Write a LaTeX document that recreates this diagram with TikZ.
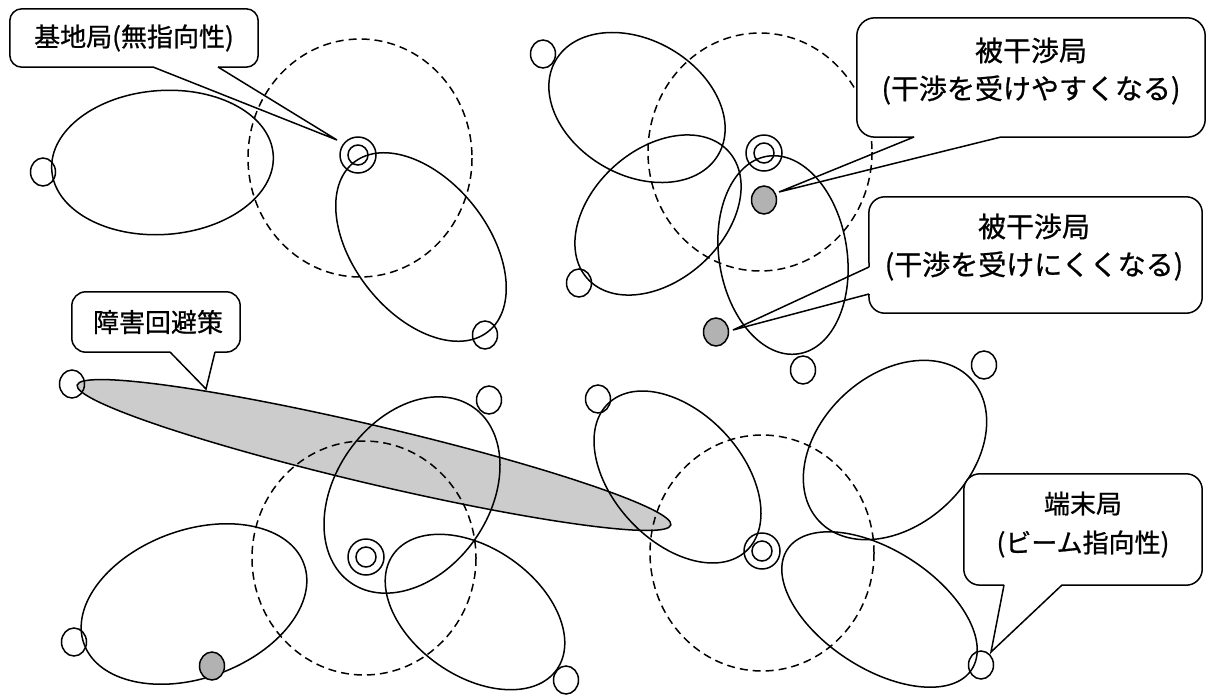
\documentclass[tikz,border=0pt]{standalone}
\usepackage{fontspec}
\newfontfamily\jp[FakeBold=0.8]{Noto Sans CJK JP}
\usetikzlibrary{shapes.geometric}
\begin{document}
\begin{tikzpicture}[x=1pt,y=-1pt,
  ln/.style={line width=1.5pt},
  beam/.style={ln},
  dashcirc/.style={ln, dash pattern=on 8pt off 5pt},
  term/.style={ln, draw, ellipse, minimum width=25pt, minimum height=28pt, inner sep=0pt},
  victim/.style={term, fill=black!30},
  bsout/.style={ln, draw, circle, minimum size=36pt, inner sep=0pt},
  bsin/.style={ln, draw, circle, minimum size=20pt, inner sep=0pt},
  cbox/.style={fill=white, inner sep=0pt},
  ctext/.style={align=center, inner sep=0pt},
  ctA/.style={ctext, font=\jp\fontsize{26}{39}\selectfont},
  ctB/.style={ctext, font=\jp\fontsize{28}{38}\selectfont},
]
\fill[white] (0,0) rectangle (1207,694);
\useasboundingbox (0,0) rectangle (1207,694);

% obstacle-avoidance beam (fill first so lines show through)
\fill[black!20, rotate around={-13.26:(374,455)}] (374,455) ellipse [x radius=305, y radius=29];

% omnidirectional coverage of base stations
\draw[dashcirc] (360,158) ellipse [x radius=112, y radius=119];
\draw[dashcirc] (760,152) ellipse [x radius=112, y radius=119];
\draw[dashcirc] (364,558) ellipse [x radius=112, y radius=117];
\draw[dashcirc] (762,553) ellipse [x radius=112, y radius=118];

% terminal beams
\draw[beam, rotate around={4:(162.5,162.5)}] (162.5,162.5) ellipse [x radius=111, y radius=72];
\draw[beam, rotate around={-51.5:(421,247)}] (421,247) ellipse [x radius=108, y radius=67];
\draw[beam, rotate around={-30:(637,107.5)}] (637,107.5) ellipse [x radius=94, y radius=67.5];
\draw[beam, rotate around={42:(658,215)}] (658,215) ellipse [x radius=95, y radius=65.5];
\draw[beam, rotate around={-81:(783,255)}] (783,255) ellipse [x radius=100, y radius=64];
\draw[beam, rotate around={55:(412,495)}] (412,495) ellipse [x radius=107, y radius=77];
\draw[beam, rotate around={-35:(475,612)}] (475,612) ellipse [x radius=100, y radius=64];
\draw[beam, rotate around={20:(194,604)}] (194,604) ellipse [x radius=117, y radius=74];
\draw[beam, rotate around={-47:(677.5,477)}] (677.5,477) ellipse [x radius=101, y radius=64.5];
\draw[beam, rotate around={43:(895,450)}] (895,450) ellipse [x radius=104, y radius=75];
\draw[beam, rotate around={-33:(879.5,609.5)}] (879.5,609.5) ellipse [x radius=110, y radius=59];

% outline of obstacle-avoidance beam
\draw[ln, rotate around={-13.26:(374,455)}] (374,455) ellipse [x radius=305, y radius=29];

% terminal stations
\node[term] (t1) at (43,172) {};
\node[term] (t2) at (485,335) {};
\node[term] (t3) at (543,54) {};
\node[term] (t4) at (579,283) {};
\node[term] (t5) at (803,370) {};
\node[term] (t6) at (72,384) {};
\node[term] (t7) at (489,400) {};
\node[term] (t8) at (74,642) {};
\node[term] (t9) at (566,680) {};
\node[term] (t10) at (598,399) {};
\node[term] (t11) at (984,365) {};
\node[term] (t12) at (981,665) {};

% interfered stations
\node[victim] (v1) at (764,200) {};
\node[victim] (v2) at (716,332) {};
\node[victim] (v3) at (212,666) {};

% base stations
\node[bsout] (b1) at (358,155) {}; \node[bsin] (b1i) at (b1) {};
\node[bsout] (b2) at (764,153) {}; \node[bsin] (b2i) at (b2) {};
\node[bsout] (b3) at (366,557) {}; \node[bsin] (b3i) at (b3) {};
\node[bsout] (b4) at (762,551) {}; \node[bsin] (b4i) at (b4) {};

% callout 1
\node[cbox, rounded corners=12pt, minimum width=248pt, minimum height=58pt] (c1) at (134,38) {};
\node[ctA] (c1t) at (134,38) {基地局(無指向性)};
\coordinate (c1a) at (153,67); \coordinate (c1b) at (218,67); \coordinate (p1) at (337,140);
\draw[ln, rounded corners=12pt] (c1a) -- (c1.south west) -- (c1.north west) -- (c1.north east) -- (c1.south east) -- (c1b);
\draw[ln] (c1a) -- (p1) -- (c1b);

% callout 2
\node[cbox, rounded corners=18pt, minimum width=348pt, minimum height=119pt] (c2) at (1031,77.5) {};
\node[ctB] (c2t) at (1031,71) {被干渉局\\(干渉を受けやすくなる)};
\coordinate (c2a) at (914,137); \coordinate (c2b) at (1001,137); \coordinate (p2) at (779,192);
\draw[ln, rounded corners=18pt] (c2a) -- (c2.south west) -- (c2.north west) -- (c2.north east) -- (c2.south east) -- (c2b);
\draw[ln] (c2a) -- (p2) -- (c2b);

% callout 3
\node[cbox, rounded corners=16pt, minimum width=333pt, minimum height=116pt] (c3) at (1035.5,255) {};
\node[ctB] (c3t) at (1034,247) {被干渉局\\(干渉を受けにくくなる)};
\coordinate (c3a) at (869,267); \coordinate (c3b) at (869,294); \coordinate (p3) at (733,330);
\draw[ln, rounded corners=16pt] (c3a) -- (c3.north west) -- (c3.north east) -- (c3.south east) -- (c3.south west) -- (c3b);
\draw[ln] (c3a) -- (p3) -- (c3b);

% callout 4
\node[cbox, rounded corners=14pt, minimum width=168pt, minimum height=60pt] (c4) at (156,322) {};
\node[ctA] (c4t) at (158,322) {障害回避策};
\coordinate (c4a) at (170,352); \coordinate (c4b) at (215,352); \coordinate (p4) at (206,389);
\draw[ln, rounded corners=14pt] (c4a) -- (c4.south west) -- (c4.north west) -- (c4.north east) -- (c4.south east) -- (c4b);
\draw[ln] (c4a) -- (p4) -- (c4b);

% callout 5
\node[cbox, rounded corners=16pt, minimum width=238pt, minimum height=111pt] (c5) at (1083,529.5) {};
\node[ctA] (c5t) at (1083,524.5) {端末局\\(ビーム指向性)};
\coordinate (c5a) at (1004,585); \coordinate (c5b) at (1062,585); \coordinate (p5) at (991,652);
\draw[ln, rounded corners=16pt] (c5a) -- (c5.south west) -- (c5.north west) -- (c5.north east) -- (c5.south east) -- (c5b);
\draw[ln] (c5a) -- (p5) -- (c5b);
\end{tikzpicture}
\end{document}
